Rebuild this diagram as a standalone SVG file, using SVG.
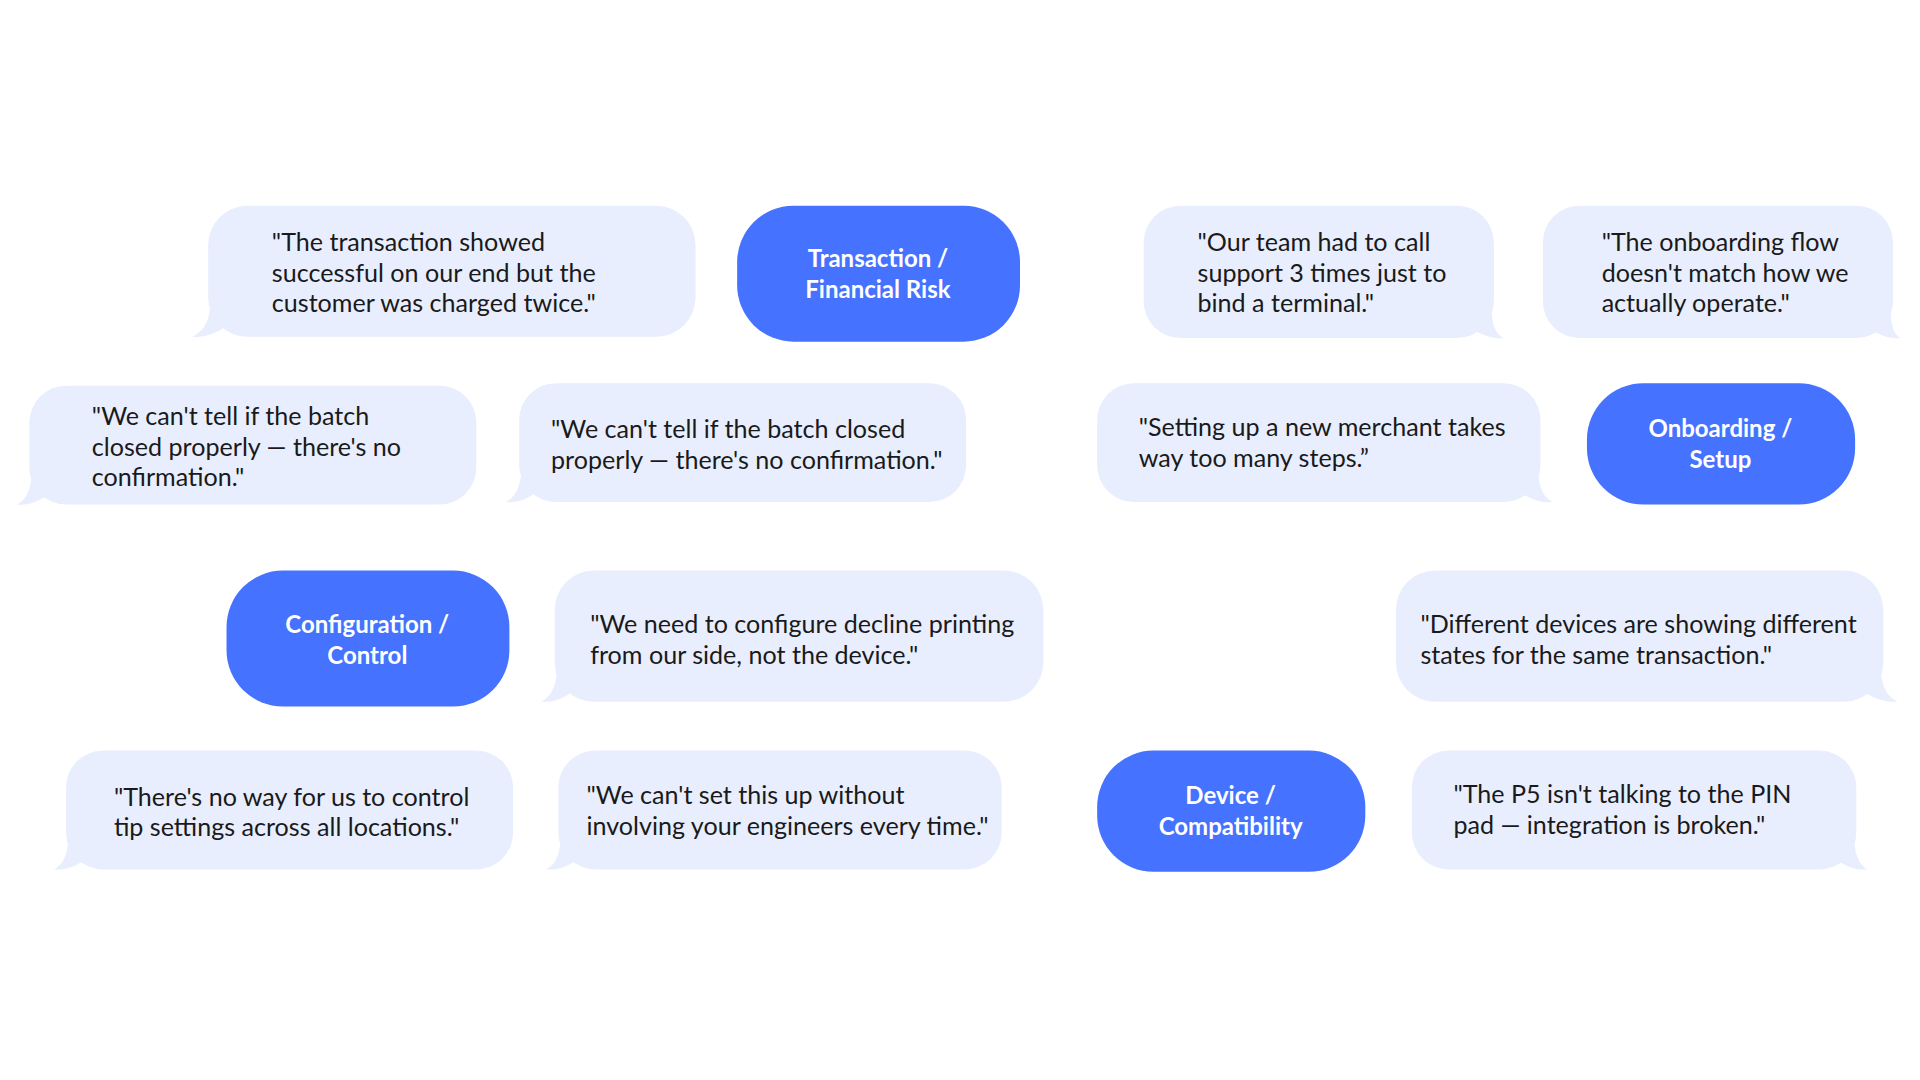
<svg xmlns="http://www.w3.org/2000/svg" width="1920" height="1080" viewBox="0 0 1920 1080">
<style>
.b{fill:#E8EEFD}
.p{fill:#4572FF}
.t{font-family:Lato,"Liberation Sans",sans-serif;font-size:20.5px;fill:#1a1a1a}
.h{font-family:Lato,"Liberation Sans",sans-serif;font-size:19.6px;font-weight:bold;fill:#fff;text-anchor:middle}
</style>
<rect width="1920" height="1080" fill="#fff"/>
<g transform="scale(1.22449)">
<g id="q1"><rect class="b" x="170" y="168" width="398" height="107" rx="32"/><path class="b" d="M172,245 C172,262 166,271 157,275 C167,276 178,272 186,265 Z"/>
<text class="t" x="222" y="205"><tspan x="222">"The transaction showed</tspan><tspan x="222" dy="25">successful on our end but the</tspan><tspan x="222" dy="25">customer was charged twice."</tspan></text></g>
<g id="c1"><rect class="p" x="602" y="168" width="231" height="111" rx="46"/><text class="h" x="717" y="218"><tspan x="717">Transaction /</tspan><tspan x="717" dy="25">Financial Risk</tspan></text></g>
<g id="q2"><rect class="b" x="934" y="168" width="286" height="108" rx="30"/><path class="b" d="M1218,246 C1218,263 1220,272 1228,276 C1218,277 1207,273 1200,266 Z"/>
<text class="t" x="978" y="205"><tspan x="978">"Our team had to call</tspan><tspan x="978" dy="25">support 3 times just to</tspan><tspan x="978" dy="25">bind a terminal."</tspan></text></g>
<g id="q3"><rect class="b" x="1260" y="168" width="286" height="108" rx="30"/><path class="b" d="M1544,246 C1544,263 1545,272 1552,276 C1542,277 1532,273 1525,266 Z"/>
<text class="t" x="1308" y="205"><tspan x="1308">"The onboarding flow</tspan><tspan x="1308" dy="25">doesn't match how we</tspan><tspan x="1308" dy="25">actually operate."</tspan></text></g>
<g id="q4"><rect class="b" x="24" y="315" width="365" height="97" rx="30"/><path class="b" d="M26,382 C26,399 22,408 14,412 C24,413 34,409 41,402 Z"/>
<text class="t" x="75" y="347"><tspan x="75">"We can't tell if the batch</tspan><tspan x="75" dy="25">closed properly — there's no</tspan><tspan x="75" dy="25">confirmation."</tspan></text></g>
<g id="q5"><rect class="b" x="424" y="313" width="365" height="97" rx="30"/><path class="b" d="M426,380 C426,397 421,406 413,410 C423,411 433,407 440,400 Z"/>
<text class="t" x="450" y="358"><tspan x="450">"We can't tell if the batch closed</tspan><tspan x="450" dy="25">properly — there's no confirmation."</tspan></text></g>
<g id="q6"><rect class="b" x="896" y="313" width="362" height="97" rx="30"/><path class="b" d="M1256,380 C1256,397 1260,406 1268,410 C1258,411 1247,407 1240,400 Z"/>
<text class="t" x="930" y="356"><tspan x="930">"Setting up a new merchant takes</tspan><tspan x="930" dy="25">way too many steps.”</tspan></text></g>
<g id="c2"><rect class="p" x="1296" y="313" width="219" height="99" rx="46"/><text class="h" x="1405" y="357"><tspan x="1405">Onboarding /</tspan><tspan x="1405" dy="25">Setup</tspan></text></g>
<g id="c3"><rect class="p" x="185" y="466" width="231" height="111" rx="46"/><text class="h" x="300" y="517"><tspan x="300">Configuration /</tspan><tspan x="300" dy="25">Control</tspan></text></g>
<g id="q7"><rect class="b" x="453" y="466" width="399" height="107" rx="32"/><path class="b" d="M455,543 C455,560 450,569 442,573 C452,574 462,570 469,563 Z"/>
<text class="t" x="482" y="517"><tspan x="482">"We need to configure decline printing</tspan><tspan x="482" dy="25">from our side, not the device."</tspan></text></g>
<g id="q8"><rect class="b" x="1140" y="466" width="398" height="107" rx="32"/><path class="b" d="M1536,543 C1536,560 1541,569 1550,573 C1540,574 1528,570 1520,563 Z"/>
<text class="t" x="1160" y="517"><tspan x="1160">"Different devices are showing different</tspan><tspan x="1160" dy="25">states for the same transaction."</tspan></text></g>
<g id="q9"><rect class="b" x="54" y="613" width="365" height="97" rx="30"/><path class="b" d="M56,680 C56,697 52,706 44,710 C54,711 64,707 71,700 Z"/>
<text class="t" x="93" y="658"><tspan x="93">"There's no way for us to control</tspan><tspan x="93" dy="25">tip settings across all locations."</tspan></text></g>
<g id="q10"><rect class="b" x="456" y="613" width="362" height="97" rx="30"/><path class="b" d="M458,680 C458,697 454,706 446,710 C456,711 466,707 473,700 Z"/>
<text class="t" x="479" y="657"><tspan x="479">"We can't set this up without</tspan><tspan x="479" dy="25">involving your engineers every time."</tspan></text></g>
<g id="c4"><rect class="p" x="896" y="613" width="219" height="99" rx="46"/><text class="h" x="1005" y="657"><tspan x="1005">Device /</tspan><tspan x="1005" dy="25">Compatibility</tspan></text></g>
<g id="q11"><rect class="b" x="1153" y="613" width="363" height="97" rx="30"/><path class="b" d="M1514,680 C1514,697 1518,706 1525,710 C1515,711 1505,707 1498,700 Z"/>
<text class="t" x="1187" y="656"><tspan x="1187">"The P5 isn't talking to the PIN</tspan><tspan x="1187" dy="25">pad — integration is broken."</tspan></text></g>
<g id="connectors"/>
</g>
</svg>
